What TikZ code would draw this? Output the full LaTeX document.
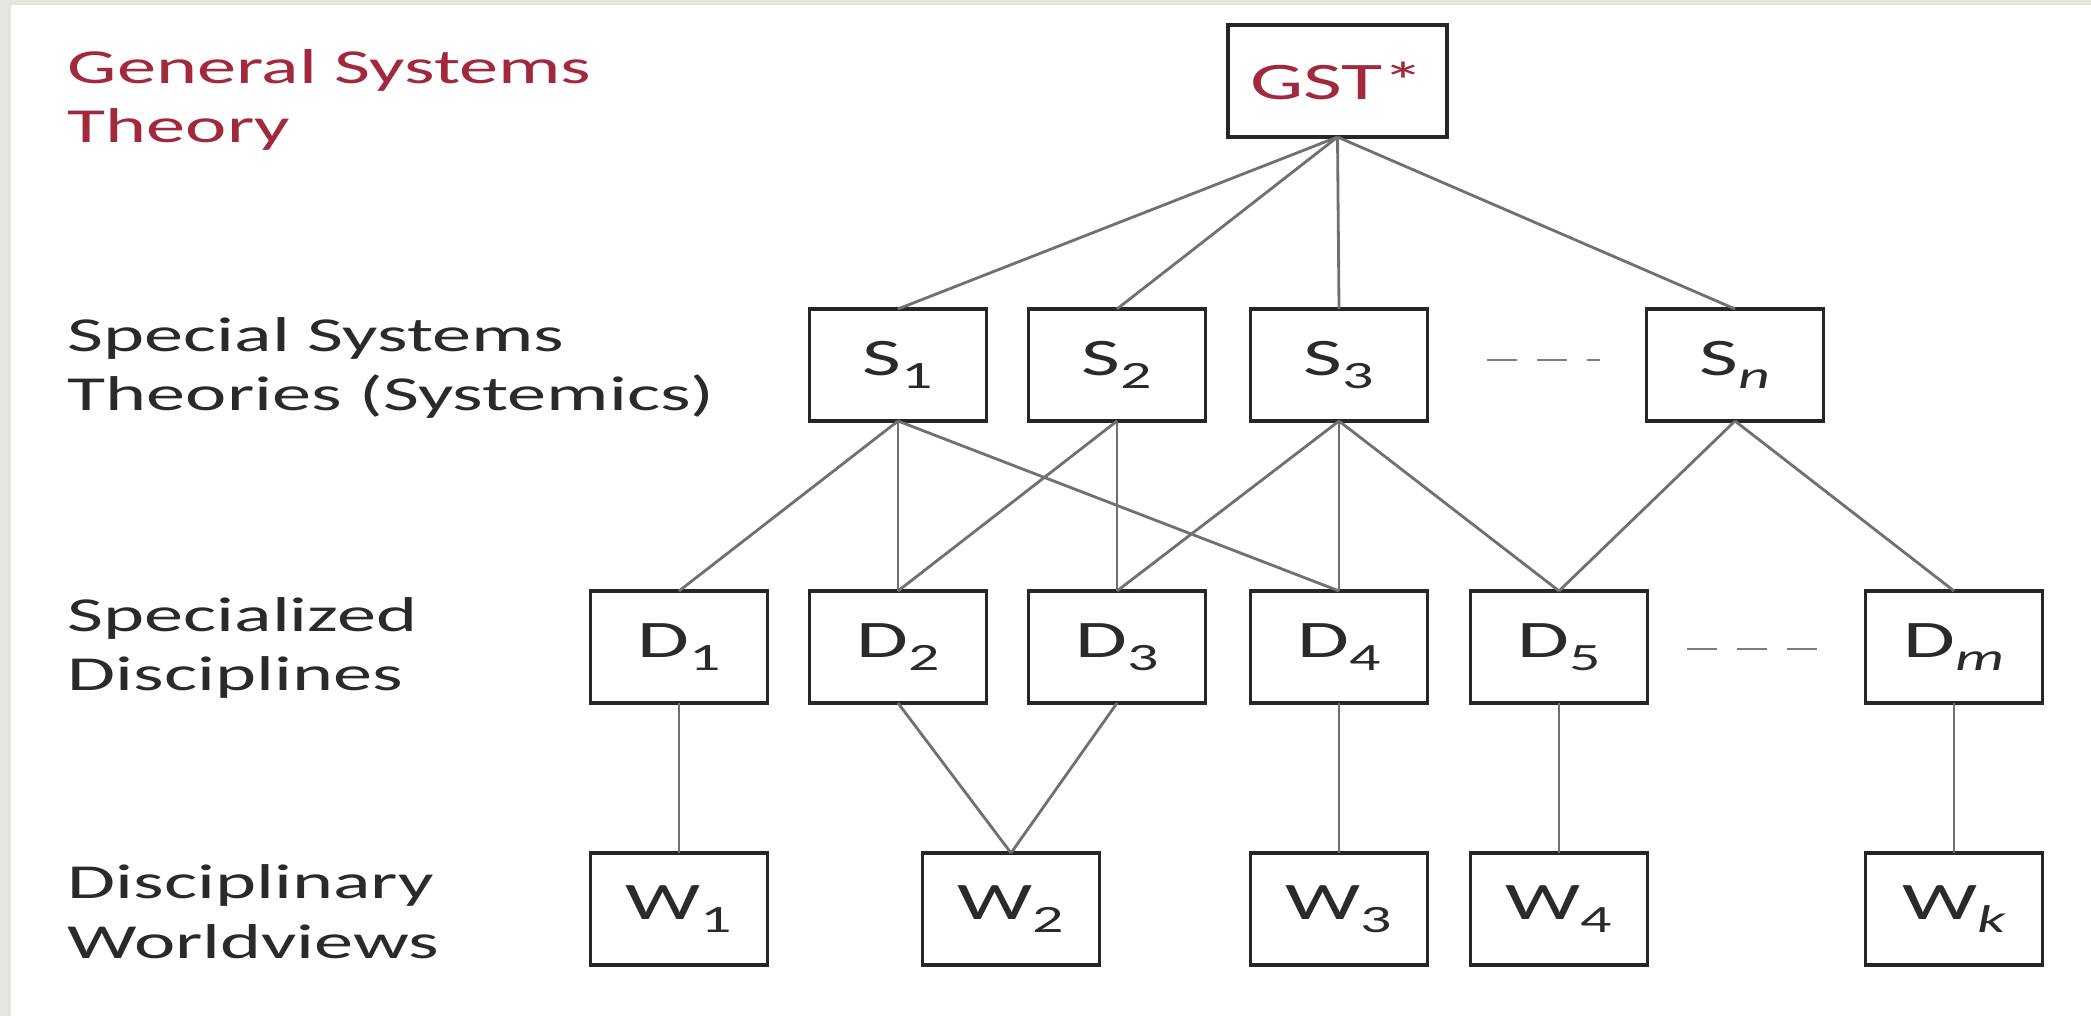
\documentclass[tikz,border=0pt]{standalone}
\usepackage{fontspec}
\usepackage{graphicx}
\setmainfont{Carlito}

% colours
\definecolor{framegray}{HTML}{E7E5E0}
\definecolor{ink}{HTML}{2A2A2A}
\definecolor{titlered}{HTML}{A2283B}
\definecolor{boxline}{HTML}{262626}
\definecolor{linkgray}{HTML}{707070}
\definecolor{dashgray}{HTML}{7E7E7E}

% wide lettering and lowered subscripts
\newcommand\stretchx[1]{\scalebox{1.6}[1]{#1}}
\newcommand\lowsub[1]{\raisebox{-0.25em}{\fontsize{11pt}{12pt}\selectfont #1}}
\newcommand\bodyfont{\fontsize{13.9pt}{17pt}\selectfont}
\newcommand\boxfont{\fontsize{15pt}{17pt}\selectfont}

\tikzset{
  box/.style={draw=boxline, line width=1pt, fill=white,
    minimum width=1.77cm, minimum height=1.12cm,
    inner sep=0pt, outer sep=0pt, font=\boxfont, text=ink},
  link/.style={draw=linkgray, line width=0.8pt},
  gapline/.style={draw=dashgray, line width=0.85pt, dash pattern=on 3mm off 2mm},
  layer/.style={anchor=west, align=left, inner sep=0pt, font=\bodyfont, text=ink}
}

\begin{document}
\begin{tikzpicture}[x=0.01cm, y=0.01cm]
  % page and frame
  \useasboundingbox (0,0) rectangle (2091,-1016);
  \fill[white] (0,0) rectangle (2091,-1016);
  \fill[framegray] (0,0) rectangle (11,-1016);
  \fill[framegray] (0,0) rectangle (2091,-5);

  % layer captions
  \node[layer, text=titlered] (capG) at (67,-100) {\stretchx{General Systems}\\\stretchx{Theory}};
  \node[layer] (capS) at (67,-368) {\stretchx{Special Systems}\\\stretchx{Theories (Systemics)}};
  \node[layer] (capD) at (67,-648) {\stretchx{Specialized}\\\stretchx{Disciplines}};
  \node[layer] (capW) at (67,-912) {\stretchx{Disciplinary}\\\stretchx{Worldviews}};

  % top
  \node[box, minimum width=2.19cm, text=titlered] (GST) at (1337.5,-81) {\stretchx{GST*}};

  % special systems theories
  \node[box] (S1) at (898,-365)  {\stretchx{S\lowsub{1}}};
  \node[box] (S2) at (1117,-365) {\stretchx{S\lowsub{2}}};
  \node[box] (S3) at (1339,-365) {\stretchx{S\lowsub{3}}};
  \node[box] (Sn) at (1735,-365) {\stretchx{S\lowsub{\itshape n}}};

  % disciplines
  \node[box] (D1) at (679,-647)  {\stretchx{D\lowsub{1}}};
  \node[box] (D2) at (898,-647)  {\stretchx{D\lowsub{2}}};
  \node[box] (D3) at (1117,-647) {\stretchx{D\lowsub{3}}};
  \node[box] (D4) at (1339,-647) {\stretchx{D\lowsub{4}}};
  \node[box] (D5) at (1559,-647) {\stretchx{D\lowsub{5}}};
  \node[box] (Dm) at (1954,-647) {\stretchx{D\lowsub{\itshape m}}};

  % worldviews
  \node[box] (W1) at (679,-909)  {\stretchx{W\lowsub{1}}};
  \node[box] (W2) at (1011,-909) {\stretchx{W\lowsub{2}}};
  \node[box] (W3) at (1339,-909) {\stretchx{W\lowsub{3}}};
  \node[box] (W4) at (1559,-909) {\stretchx{W\lowsub{4}}};
  \node[box] (Wk) at (1954,-909) {\stretchx{W\lowsub{\itshape k}}};

  % links GST -> S
  \foreach \s in {S1,S2,S3,Sn} \draw[link] (GST.south) -- (\s.north);
  % links S -> D
  \foreach \s/\d in {S1/D1,S1/D2,S1/D4,S2/D2,S2/D3,S3/D3,S3/D4,S3/D5,Sn/D5,Sn/Dm}
    \draw[link] (\s.south) -- (\d.north);
  % links D -> W
  \foreach \d/\w in {D1/W1,D2/W2,D3/W2,D4/W3,D5/W4,Dm/Wk}
    \draw[link] (\d.south) -- (\w.north);

  % ellipsis dashes
  \coordinate (sgapA) at (1487,-360);
  \coordinate (sgapB) at (1600,-360);
  \coordinate (dgapA) at (1687,-649);
  \coordinate (dgapB) at (1823,-649);
  \draw[gapline] (sgapA) -- (sgapB);
  \draw[gapline] (dgapA) -- (dgapB);
\end{tikzpicture}
\end{document}
